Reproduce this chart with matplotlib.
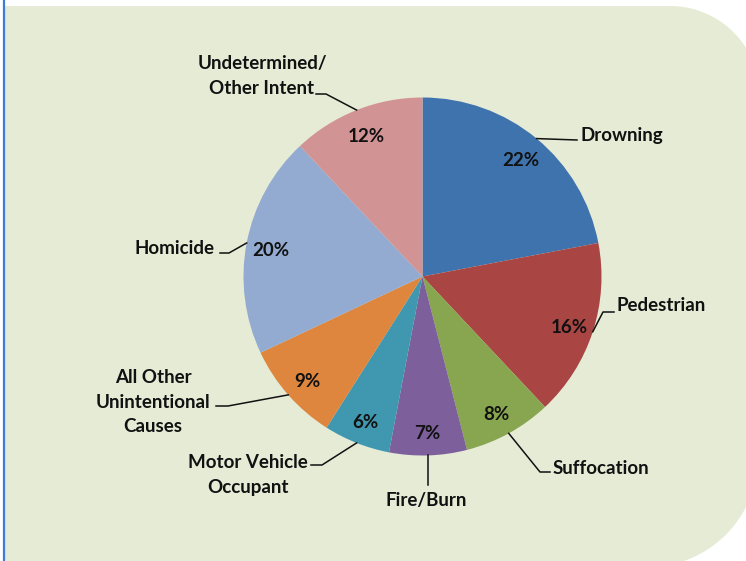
import numpy as np
import matplotlib
matplotlib.use("Agg")
import matplotlib.pyplot as plt
from matplotlib.patches import Polygon

categories = ["Drowning", "Pedestrian", "Suffocation", "Fire/Burn",
              "Motor Vehicle\nOccupant", "All Other\nUnintentional\nCauses",
              "Homicide", "Undetermined/\nOther Intent"]
shares = [22, 16, 8, 7, 6, 9, 20, 12]
colors = ["#3F73AE", "#A94644", "#88A64F", "#7C5F9B",
          "#3F98AF", "#DE853E", "#93ABD0", "#D29394"]

W, H = 746, 561
plt.rcParams["font.family"] = ["Lato", "DejaVu Sans"]
FS = 13.5

fig = plt.figure(figsize=(W / 100, H / 100), dpi=100)
fig.patch.set_facecolor("white")
ax = fig.add_axes([0, 0, 1, 1])


def rounded_panel(left, top, right_top, r_top, right_bot, r_bot, bottom):
    pts = [(left, bottom), (left, top)]
    cx, cy = right_top - r_top, top + r_top
    for a in np.linspace(-np.pi / 2, 0, 40):
        pts.append((cx + r_top * np.cos(a), cy + r_top * np.sin(a)))
    cx, cy = right_bot - r_bot, bottom - r_bot
    for a in np.linspace(0, np.pi / 2, 40):
        pts.append((cx + r_bot * np.cos(a), cy + r_bot * np.sin(a)))
    return pts


panel = Polygon(rounded_panel(4, 6, 760, 90, 758, 110, 567),
                closed=True, facecolor="#E6EBD6", edgecolor="none", zorder=0)
ax.add_patch(panel)
ax.plot([4, 4], [0, H], color="#3B7DD8", lw=1.6, zorder=1)

center = (422.5, 276.5)
radius = 179
wedges, _, autotexts = ax.pie(
    shares, colors=colors, startangle=-90, counterclock=True,
    center=center, radius=radius, autopct="%d%%", pctdistance=0.86,
    wedgeprops=dict(linewidth=0), frame=True,
    textprops=dict(fontsize=FS, fontweight="bold", color="#111111"))
for t in autotexts:
    x, y = t.get_position()
    t.set_position((x, y + 3))
ax.set_xlim(0, W)
ax.set_ylim(H, 0)
ax.set_aspect("equal")
ax.axis("off")

# label text position, alignment and leader-line bend points
layout = [
    ((580, 135), "left", [(577, 140)]),
    ((617, 305), "left", [(603, 312), (614, 312)]),
    ((553, 468), "left", [(540, 472), (550, 472)]),
    ((426, 500), "center", [None]),
    ((248, 475), "center", [(322, 465), (311, 465)]),
    ((153, 402), "center", [(228, 406), (216, 406)]),
    ((215, 248), "right", [(229, 253), (220, 253)]),
    ((262, 76), "center", [(326, 94), (316, 94)]),
]

for w, name, (pos, ha, bends) in zip(wedges, categories, layout):
    mid = np.deg2rad((w.theta1 + w.theta2) / 2)
    ex = center[0] + radius * np.cos(mid)
    ey = center[1] + radius * np.sin(mid)
    if bends == [None]:
        bends = [(ex, 485)]
    xs = [ex] + [b[0] for b in bends]
    ys = [ey] + [b[1] for b in bends]
    ax.plot(xs, ys, color="#111111", lw=1.1, zorder=3)
    ax.text(pos[0], pos[1], name, ha=ha, va="center", multialignment="center",
            fontsize=FS, fontweight="bold", color="#111111", linespacing=1.55)

fig.savefig("out.png", dpi=100, facecolor="white")
